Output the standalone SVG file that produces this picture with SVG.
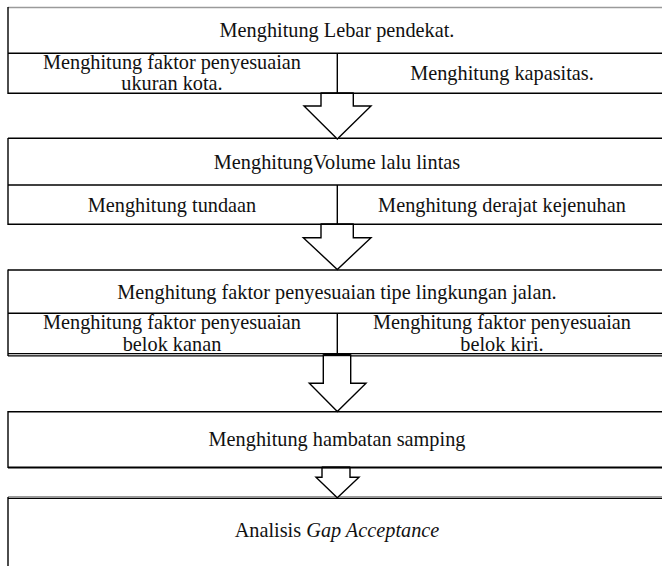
<svg xmlns="http://www.w3.org/2000/svg" width="662" height="566" viewBox="0 0 662 566">
<style>
.ln{stroke:#000;stroke-width:1.4;fill:none}
.gr{stroke:#9a9a9a;stroke-width:1.6;fill:none}
.arr{fill:#fff;stroke:#000;stroke-width:1.4;stroke-linejoin:miter}
text{font-family:"Liberation Serif","Times New Roman",serif;font-size:20.3px;fill:#111;text-anchor:middle}
</style>
<rect width="662" height="566" fill="#fff"/>
<g id="node1">
<line class="gr" x1="8" y1="7.5" x2="662" y2="7.5"/>
<line class="ln" x1="8" y1="7" x2="8" y2="94"/>
<line class="ln" x1="8" y1="53.3" x2="662" y2="53.3"/>
<line class="ln" x1="8" y1="93.3" x2="662" y2="93.3"/>
<line class="ln" x1="337.3" y1="53.3" x2="337.3" y2="93.3"/>
<text x="337" y="37">Menghitung Lebar pendekat.</text>
<text x="172" y="69">Menghitung faktor penyesuaian</text>
<text x="172" y="90">ukuran kota.</text>
<text x="502" y="80">Menghitung kapasitas.</text>
</g>
<g id="node2">
<line class="ln" x1="8" y1="138.3" x2="662" y2="138.3"/>
<line class="ln" x1="8" y1="138" x2="8" y2="225"/>
<line class="ln" x1="8" y1="185" x2="662" y2="185"/>
<line class="ln" x1="8" y1="224.3" x2="662" y2="224.3"/>
<line class="ln" x1="337.3" y1="185" x2="337.3" y2="224.3"/>
<text x="337" y="168.5">MenghitungVolume lalu lintas</text>
<text x="172" y="211.5">Menghitung tundaan</text>
<text x="502" y="211.5">Menghitung derajat kejenuhan</text>
</g>
<g id="node3">
<line class="ln" x1="8" y1="270" x2="662" y2="270"/>
<line class="ln" x1="8" y1="269.5" x2="8" y2="356"/>
<line class="ln" x1="8" y1="313.3" x2="662" y2="313.3"/>
<line class="ln" x1="8" y1="353.6" x2="662" y2="353.6"/>
<line class="ln" x1="8" y1="355.8" x2="662" y2="355.8" style="stroke-width:1.2"/>
<line class="ln" x1="337.3" y1="313.3" x2="337.3" y2="354"/>
<text x="337" y="298.5">Menghitung faktor penyesuaian tipe lingkungan jalan.</text>
<text x="172" y="329">Menghitung faktor penyesuaian</text>
<text x="172" y="351">belok kanan</text>
<text x="502" y="329">Menghitung faktor penyesuaian</text>
<text x="502" y="351">belok kiri.</text>
</g>
<g id="node4">
<line class="ln" x1="8" y1="411.7" x2="662" y2="411.7"/>
<line class="ln" x1="8" y1="411" x2="8" y2="468"/>
<line class="ln" x1="8" y1="467.5" x2="662" y2="467.5" style="stroke-width:2"/>
<text x="337" y="446">Menghitung hambatan samping</text>
</g>
<g id="node5">
<line class="gr" x1="8" y1="497.2" x2="662" y2="497.2" style="stroke-width:2.4"/>
<line class="ln" x1="8" y1="498.5" x2="662" y2="498.5" style="stroke-width:1"/>
<line class="ln" x1="8" y1="497" x2="8" y2="566"/>
<text x="337" y="537">Analisis <tspan font-style="italic">Gap Acceptance</tspan></text>
</g>
<g id="connectors">
<polygon class="arr" points="321,93.3 321,106 304,106 337.3,139 371,106 353.3,106 353.3,93.3"/>
<line class="ln" x1="321" y1="93.3" x2="353.3" y2="93.3"/>
<polygon class="arr" points="321,224.3 321,237.7 303.3,237.7 337.3,269.5 371,237.7 353.3,237.7 353.3,224.3"/>
<line class="ln" x1="321" y1="224.3" x2="353.3" y2="224.3"/>
<polygon class="arr" points="323.3,355 323.3,383.3 309.3,383.3 337.3,411.5 366,383.3 350.7,383.3 350.7,355"/>
<line class="ln" x1="323.3" y1="355" x2="350.7" y2="355" style="stroke-width:2.4"/>
<polygon class="arr" points="322,467.5 322,477.3 316,477.3 337.3,497.7 359,477.3 350,477.3 350,467.5"/>
<line class="ln" x1="322" y1="467.5" x2="350" y2="467.5" style="stroke-width:2"/>
</g>
</svg>
